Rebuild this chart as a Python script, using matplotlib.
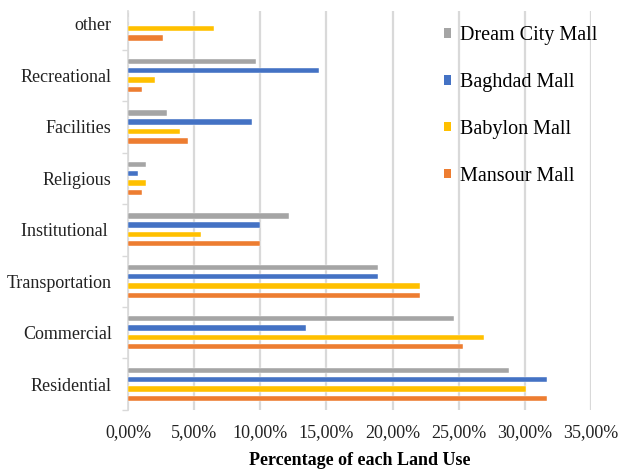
import matplotlib

matplotlib.use("Agg")
from matplotlib import pyplot as plt
from matplotlib.patches import Patch
from matplotlib.ticker import FuncFormatter, FixedLocator
import numpy as np

# categories listed bottom -> top
categories = ["Residential", "Commercial", "Transportation", "Institutional ",
              "Religious", "Facilities", "Recreational", "other"]

mansour = [31.7, 25.3, 22.1, 9.95, 1.05, 4.55, 1.05, 2.65]
babylon = [30.1, 26.9, 22.1, 5.5, 1.35, 3.9, 2.0, 6.45]
baghdad = [31.7, 13.45, 18.9, 9.95, 0.7, 9.35, 14.45, 0.0]
dream_city = [28.8, 24.65, 18.9, 12.2, 1.35, 2.95, 9.65, 0.0]

series = [
    ("Mansour Mall", mansour, "#ED7D31"),
    ("Babylon Mall", babylon, "#FFC000"),
    ("Baghdad Mall", baghdad, "#4472C4"),
    ("Dream City Mall", dream_city, "#A5A5A5"),
]

plt.rcParams["font.family"] = ["Liberation Serif", "DejaVu Serif"]

fig = plt.figure(figsize=(6.19, 4.72), dpi=100)
ax = fig.add_axes([0.2073, 0.1314, 0.747, 0.8453])

y = np.arange(len(categories))
pitch = 0.181
height = 0.105
for i, (name, values, color) in enumerate(series):
    ax.barh(y + (i - 1.5) * pitch, values, height=height, color=color,
            edgecolor="white", linewidth=0.3, label=name, zorder=3)

ax.set_xlim(0, 35)
ax.set_ylim(-0.5, 7.25)
ax.set_xticks(np.arange(0, 36, 5))
ax.xaxis.set_major_formatter(FuncFormatter(lambda v, _: f"{v:.2f}%".replace(".", ",")))
ax.tick_params(axis="x", length=0, pad=10, labelsize=13, colors="#222222")
ax.grid(axis="x", color="#D9D9D9", linewidth=1.6, zorder=0)

ax.set_yticks(y)
ax.set_yticklabels(categories)
ax.yaxis.set_minor_locator(FixedLocator(np.arange(-0.5, 7.0, 1.0)))
ax.tick_params(axis="y", which="major", length=0, pad=12, labelsize=13, colors="#222222")
ax.tick_params(axis="y", which="minor", length=4, width=1, color="#D9D9D9")

for side in ("top", "right", "bottom"):
    ax.spines[side].set_visible(False)
ax.spines["left"].set_color("#D9D9D9")
ax.spines["left"].set_linewidth(1.2)

ax.set_xlabel("Percentage of each Land Use", fontsize=13, fontweight="bold", labelpad=8)

handles = [Patch(facecolor=c, label=n) for n, _, c in reversed(series)]
ax.legend(handles=handles, loc="upper left", bbox_to_anchor=(0.666, 0.982),
          frameon=False, fontsize=14.5, handlelength=0.35, handleheight=0.35,
          handletextpad=0.45, labelspacing=1.38, borderaxespad=0)

fig.savefig("out.png", dpi=100)
